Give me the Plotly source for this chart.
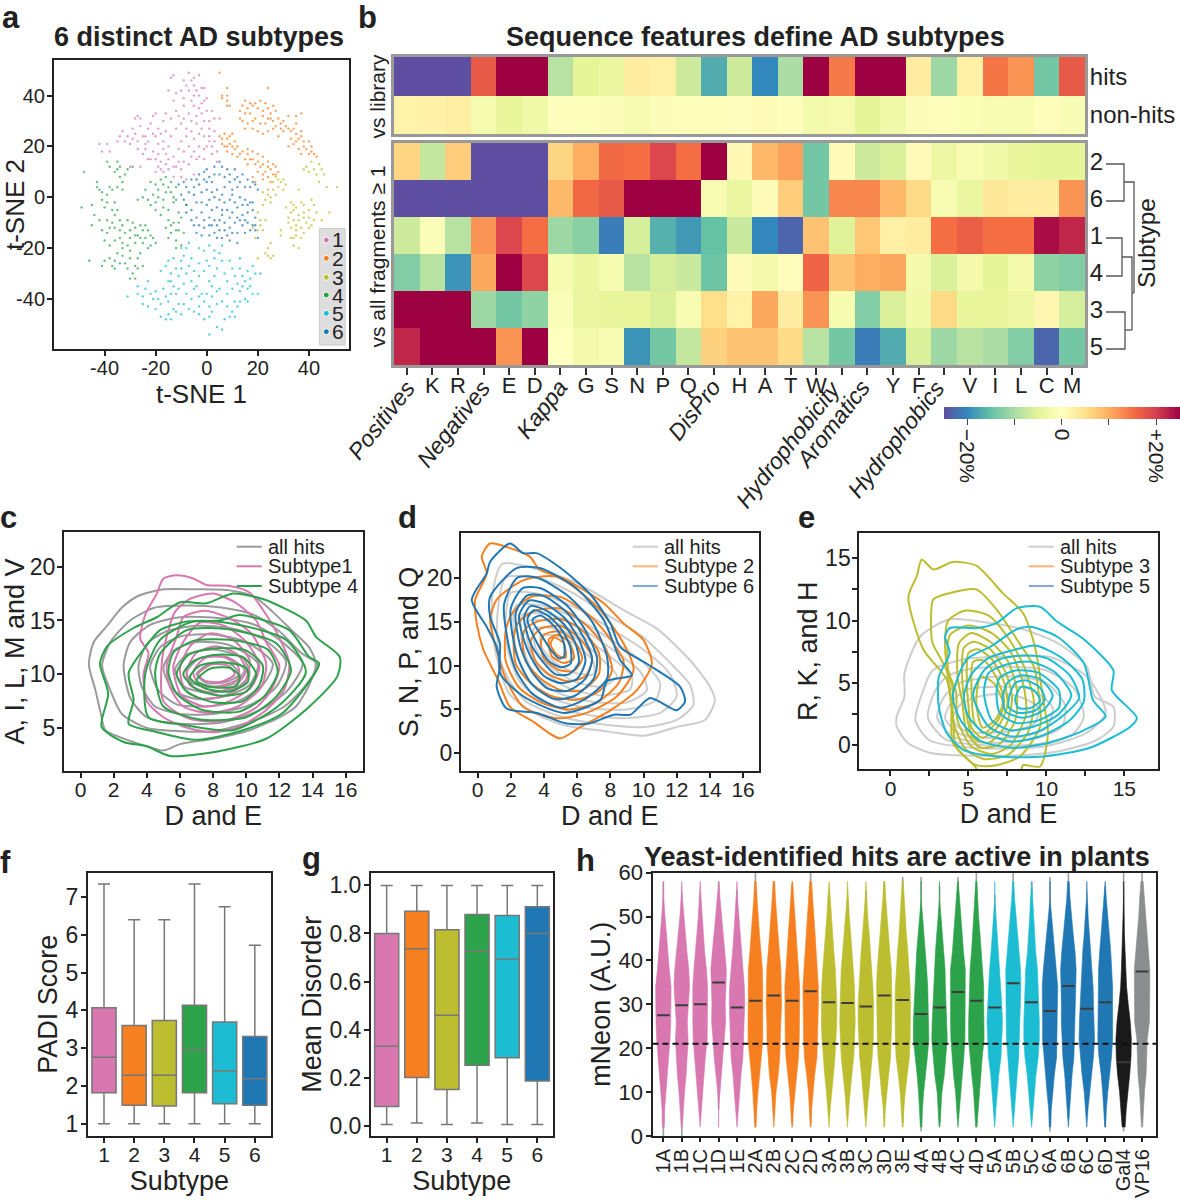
import plotly.graph_objects as go

W, H = 1180, 1200
FONT = "Liberation Sans"
INK = "#222222"
PINK, ORANGE, OLIVE, GREEN, CYAN, BLUE = "#d977b0", "#f6801f", "#bcbd2f", "#2ca24a", "#1cbdd2", "#1f77b4"
SUB_COLORS = [PINK, ORANGE, OLIVE, GREEN, CYAN, BLUE]

# ---------- panel a: t-SNE points ----------
TSNE_1 = [(-42,21),(-41,18),(-39,21),(-38,18),(-33,26),(-31,24),(-32,22),(-30,21),(-29,27),(-28,31),(-27,32),(-26,28),(-28,25),(-25,24),(-27,22),(-24,19),(-25,17),(-23,15),(-30,12),(-26,12),(-21,32),(-20,33),(-22,29),(-19,27),(-18,25),(-20,24),(-16,26),(-14,24),(-17,22),(-15,20),(-21,18),(-19,17),(-22,15),(-20,15),(-18,14),(-16,17),(-13,16),(-11,19),(-10,22),(-12,27),(-10,29),(-14,31),(-12,34),(-9,36),(-15,42),(-14,47),(-13,48),(-10,42),(-9,39),(-7,49),(-6,46),(-5,47),(-3,48),(-8,44),(-7,42),(-6,38),(-4,42),(-3,40),(-2,43),(-1,43),(-1,38),(0,39),(-5,36),(-3,35),(-7,33),(-6,30),(-4,29),(-2,33),(0,34),(2,34),(3,31),(1,27),(-1,24),(-3,25),(-5,23),(-8,24),(-7,20),(-5,18),(-3,20),(0,20),(2,17),(-1,15),(-4,15),(-7,13),(-9,14),(-12,12),(-15,11),(-18,11),(-20,10),(-13,8),(-10,8),(-8,7),(-5,9),(3,22),(3,26),(4,14),(1,22),(5,31),(-17,10),(-24,24),
 (-35,22),(-34,24),(-29,23),(-27,19),(-23,22),(-23,27),(-21,25),(-19,21),(-17,19),(-15,15),(-13,12),(-11,14),(-9,18),(-8,27),(-11,32),(-13,38),(-12,41),(-9,46),(-5,44),(-5,40),(-2,37),(-4,32),(-1,30),(1,30),(-2,27),(1,24),(-1,19),(2,20),(-3,16),(-6,16),(-10,11),(-16,13),(-19,12),(-24,21),(-26,31),(-17,30),(-16,33),(-6,26),(-9,31),(4,18)]
TSNE_2 = [(5,49),(6,40),(8,43),(8,40),(8,38),(8,36),(9,36),(6,39),(24,43),(13,34),(14,36),(15,38),(16,35),(17,33),(18,36),(19,37),(21,38),(23,37),(24,35),(25,33),(26,36),(27,34),(25,31),(23,29),(22,32),(19,31),(16,29),(14,30),(13,31),(18,27),(20,26),(22,25),(24,26),(27,28),(29,29),(31,28),(30,26),(28,24),(26,27),(32,32),(35,32),(37,33),(35,29),(33,26),(35,25),(37,26),(33,23),(34,21),(36,19),(38,22),(40,22),(39,19),(40,17),(37,17),(42,17),(43,16),(41,20),(5,24),(6,23),(8,23),(10,25),(9,21),(11,19),(10,17),(7,20),(8,18),(12,16),(14,18),(16,17),(18,18),(20,17),(22,16),(24,14),(16,13),(17,15),(19,13),(21,12),(23,10),(25,11),(27,12),(26,9),(24,8),(28,10),(18,8),(19,6),(20,10),(22,9),
 (15,33),(17,37),(20,35),(22,34),(24,31),(21,29),(18,30),(15,27),(26,30),(28,31),(30,30),(29,27),(32,27),(34,27),(36,23),(32,20),(35,22),(38,20),(37,24),(41,18),(7,25),(9,24),(11,22),(8,20),(12,20),(13,17),(15,15),(18,15),(20,14),(22,13),(24,12),(26,13),(22,7),(25,6),(10,20),(6,21),(16,19),(27,9)]
TSNE_3 = [(39,12),(41,14),(42,11),(44,13),(45,11),(46,9),(44,6),(47,4),(51,4),(38,11),(27,8),(29,6),(31,5),(28,4),(26,3),(24,1),(23,-1),(25,-2),(22,2),(30,3),(36,3),(48,-6),(33,-2),(35,-4),(37,-2),(41,-1),(42,-3),(38,-6),(36,-7),(33,-6),(31,-4),(40,-5),(43,-6),(42,-9),(39,-10),(36,-9),(34,-9),(32,-8),(33,-12),(35,-13),(37,-12),(40,-12),(35,-15),(33,-16),(37,-16),(34,-19),(36,-20),(29,-15),(20,-6),(21,-9),(20,-13),(22,-13),(19,-16),(25,-18),(24,-20),(23,-22),(26,-23),(25,-24),(20,-24),(18,-12),(22,-3),(29,-13),(45,-9),(34,-3),
 (40,10),(43,9),(28,7),(26,6),(30,7),(24,3),(27,1),(25,0),(34,-5),(38,-3),(40,-8),(38,-8),(35,-11),(41,-11),(38,-14),(34,-16),(32,-10),(21,-11),(23,-9),(24,-23)]
TSNE_4 = [(-48,10),(-39,14),(-35,14),(-34,12),(-36,10),(-34,8),(-33,6),(-31,11),(-29,12),(-43,6),(-43,4),(-42,3),(-41,2),(-39,1),(-37,3),(-35,4),(-33,3),(-41,-1),(-39,-2),(-36,-2),(-49,-4),(-45,-3),(-35,-5),(-36,-7),(-34,-9),(-37,-10),(-44,-7),(-45,-11),(-42,-9),(-39,-9),(-41,-13),(-39,-14),(-40,-17),(-36,-12),(-33,-11),(-32,-14),(-34,-16),(-31,-9),(-29,-10),(-28,-12),(-27,-15),(-25,-13),(-24,-11),(-22,-15),(-21,-16),(-22,-19),(-20,-18),(-25,-18),(-28,-18),(-31,-19),(-33,-20),(-35,-22),(-38,-24),(-40,-25),(-41,-27),(-46,-25),(-37,-27),(-36,-28),(-32,-26),(-30,-24),(-28,-27),(-27,-28),(-25,-27),(-29,-30),(-28,-32),(-30,-32),(-22,6),(-20,5),(-18,7),(-16,8),(-14,6),(-12,4),(-21,1),(-19,0),(-16,2),(-14,2),(-12,-1),(-24,3),(-25,0),(-22,-3),(-20,-5),(-17,-4),(-15,-5),(-13,-2),(-11,-6),(-18,-7),(-15,-9),(-13,-10),(-12,-13),(-14,-14),(-12,-17),(-15,-16),(-11,-10),(-10,-8),(-8,-3),(-27,-1),(-12,-20),(-10,-19),
 (-38,12),(-35,11),(-32,9),(-38,4),(-40,-4),(-37,-5),(-38,-12),(-34,-13),(-30,-13),(-28,-15),(-26,-11),(-23,-13),(-24,-16),(-26,-16),(-30,-16),(-33,-18),(-36,-17),(-38,-19),(-36,-25),(-33,-23),(-30,-21),(-27,-24),(-26,-22),(-23,-20),(-34,-26),(-31,-28),(-19,3),(-17,5),(-15,4),(-13,0),(-20,-2),(-23,-1),(-17,-1),(-14,-11),(-11,-13),(-16,-12),(-9,-14)]
TSNE_5 = [(-31,-39),(-27,-35),(-27,-38),(-25,-39),(-24,-36),(-23,-33),(-22,-38),(-20,-37),(-21,-40),(-23,-43),(-20,-44),(-18,-42),(-16,-39),(-15,-41),(-14,-38),(-13,-44),(-15,-46),(-14,-48),(-16,-48),(-12,-45),(-11,-42),(-18,-47),(-15,-25),(-16,-27),(-14,-30),(-15,-33),(-13,-35),(-12,-28),(-11,-31),(-10,-25),(-9,-34),(-8,-30),(-7,-27),(-6,-33),(-5,-36),(-8,-38),(-10,-20),(-8,-20),(-7,-18),(-3,-20),(-1,-21),(1,-19),(-3,-26),(-1,-29),(1,-27),(3,-24),(5,-22),(6,-19),(9,-25),(10,-28),(13,-24),(14,-31),(12,-34),(15,-33),(17,-32),(19,-30),(21,-30),(16,-36),(18,-38),(20,-38),(13,-37),(11,-41),(8,-38),(6,-41),(5,-36),(2,-35),(1,-33),(3,-31),(4,-37),(-3,-39),(-1,-41),(1,-43),(-3,-43),(-2,-38),(1,-47),(2,-45),(-1,-48),(4,-51),(6,-52),(1,-54),(7,-48),(9,-47),(11,-47),(12,-43),(10,-45),(15,-40),(16,-29),(-5,-45),
 (-25,-42),(-19,-40),(-17,-36),(-12,-38),(-14,-33),(-11,-36),(-10,-28),(-13,-24),(-9,-23),(-6,-24),(-5,-29),(-3,-31),(-4,-35),(-6,-40),(-9,-42),(-7,-44),(-3,-46),(0,-38),(2,-39),(4,-42),(0,-25),(4,-28),(7,-30),(8,-33),(10,-36),(14,-35),(17,-35),(13,-28),(11,-31),(18,-27),(8,-43),(13,-41),(16,-41),(-18,-29),(-10,-46),(6,-25),(3,-21)]
TSNE_6 = [(-11,5),(-9,6),(-8,4),(-7,2),(-10,1),(-9,-1),(-8,-3),(-5,4),(-4,7),(-3,9),(-1,10),(0,11),(1,8),(2,6),(3,12),(5,14),(6,12),(8,11),(9,9),(11,11),(12,8),(13,6),(12,4),(10,3),(7,4),(4,3),(2,2),(0,3),(-1,7),(16,7),(18,6),(19,5),(20,3),(17,4),(5,-1),(7,-2),(9,-1),(6,-5),(4,-4),(2,-5),(0,-3),(-2,-6),(-4,-8),(-6,-9),(-3,-11),(-1,-9),(1,-8),(3,-9),(5,-9),(8,-5),(10,-6),(12,-4),(14,-3),(16,-6),(18,-5),(19,-8),(15,-9),(13,-9),(11,-10),(9,-12),(7,-10),(5,-13),(3,-14),(1,-15),(-2,-15),(-4,-14),(6,-16),(9,-17),(12,-18),(15,-14),(17,-13),(19,-13),(20,-16),(18,-11),(14,-7),(-6,-5),(2,-11),(8,-15),(12,-14),(16,-3),(10,1),
 (-6,7),(-5,1),(-3,5),(-2,2),(0,6),(3,9),(5,9),(7,8),(9,6),(11,7),(14,9),(15,4),(-4,-2),(-2,-2),(1,-1),(3,0),(6,1),(11,-2),(13,0),(15,-1),(17,-2),(-1,-12),(1,-11),(4,-11),(6,-7),(9,-8),(12,-8),(14,-11),(10,-14),(7,-13),(4,-16),(-5,-11),(16,-10),(18,-2),(-8,-6),(19,-11)]
TSNE_TICKS = [-40, -20, 0, 20, 40]
TSNE_TICK_TEXT = ["-40", "-20", "0", "20", "40"]

# ---------- panel b: heatmaps ----------
FEATURES = ["Positives","K","R","Negatives","E","D","Kappa","G","S","N","P","Q","DisPro","H","A","T","W","Hydrophobicity","Aromatics","Y","F","Hydrophobics","V","I","L","C","M"]
HITS_ROW = [-25,-25,-25,17,25,25,-9,-5,-4,3,2.5,-7,-17,-7,-20,-10,25,14,25,25,3,-11,2.5,14.5,12,-14,17]
NONHITS_ROW = [2,2.3,2.7,-2,-4.5,-3,-.5,-.5,-.8,-1.8,-.8,-.6,.4,.1,.7,-.3,-2.5,-2.2,-5,-3,-.8,-.4,-1.2,-1.5,-1.5,.3,-1.4]
ROW_S2 = [6,-8,7,-25,-25,-25,6,10,15.5,15,19,15,25,1,9,11,-14,.8,-7,-6,.8,-3.5,-1.5,-3,-4.5,-5,-5]
ROW_S6 = [-25,-25,-25,-25,-25,-25,9,15.5,17,25,25,25,-1.5,-4,.5,7,-14,13,13,9,5.5,-1.5,-4,3.5,3,3,12]
ROW_S1 = [-7,-1,-9,12,19,15,-11,-12.5,-21,-6.5,-16.5,-18.5,-15,-7.5,-20,-23,8,-5.5,7.5,2.5,3,15,16.5,15,15,24,22]
ROW_S4 = [-13,-9,-19,10.5,25,19,-2,-4,-2,-9,-6.5,-7.5,-14.5,.5,-2.5,.3,16,8,10,10.5,-2.5,-6,-2.5,-5,-2.5,-12,-13]
ROW_S3 = [25,25,25,-11,-14,-12,-1,-4,-4.5,-4.5,-6,-1.5,5,2,10.5,3,12,-2,-13,-6,-3,5.5,-4.5,-4.5,-3.5,1.5,-6.5]
ROW_S5 = [22,25,25,25,12,25,0,-2.5,-1.5,-19,-14,-8,6.5,8,8,5.5,-9,-14,-21,-17,-6,-11,-9,-10,-13,-23,-14]
SPECTRAL = ["#5e4fa2","#3288bd","#66c2a5","#abdda4","#e6f598","#ffffbf","#fee08b","#fdae61","#f46d43","#d53e4f","#9e0142"]
CB_TICKS = [-20, -10, 0, 10, 20]
CB_TEXT = ["\u221220%", "", "0", "", "+20%"]

# ---------- panels c, d, e: density contour lines (data units) ----------
C_ALL = [
 [(.5,10.9),(.8,13),(1.6,14.5),(2.5,16.2),(3.5,17.3),(5,17.9),(7,17.9),(9,17.8),(10.5,17.2),(11.6,15.8),(12.8,14),(13.8,12.5),(14.2,11),(13.8,9),(13,7),(12,6),(10,4.7),(8,4),(6,3.5),(5,2.9),(4,3.3),(3,3.8),(1.5,4.8),(1.2,6.5),(.9,8.5)],
 [(1.3,10.8),(1.8,13),(3,15),(4.5,16.2),(6.5,16.4),(8.5,16.2),(10.5,15.5),(12,14),(13.3,12),(14.3,10.9),(13.5,8.8),(12.3,7),(10.5,5.7),(8,4.7),(6,4.7),(4,5),(2.5,6.3),(1.8,8.5)],
 [(2.6,10.8),(3,13),(4.2,14.6),(6,15.3),(8.5,15.2),(10.5,14.6),(12,13.2),(13.4,11),(12.5,8.5),(11,6.8),(8.5,5.5),(6,5.4),(4,6),(3,7.8)],
 [(3.5,10.8),(4,12.8),(5.2,14),(7,14.5),(9,14.3),(11,13.3),(12.4,11.2),(11.8,8.8),(10.3,7.2),(8,6.3),(6,6.3),(4.5,7),(3.7,8.8)],
 [(4.2,10.7),(4.8,12.5),(6,13.5),(8,13.7),(10,13),(11.6,11),(11,9),(9.5,7.5),(7.5,7),(5.8,7.2),(4.7,8.5)],
 [(5,10.6),(5.6,12.2),(7,13),(9,12.7),(10.7,11),(10.2,9),(8.8,8),(7,7.7),(5.6,8.5)],
 [(5.7,10.4),(6.4,11.8),(8,12.3),(9.8,11.5),(10.2,10),(9.4,8.7),(7.8,8.3),(6.3,8.8)],
 [(6.4,10.2),(7.2,11.5),(8.8,11.6),(9.9,10.4),(9.2,9.1),(7.7,8.8),(6.7,9.2)],
 [(7,10),(7.8,11),(9,11),(9.6,10),(8.8,9.3),(7.6,9.2)],
]
C_S1 = [
 [(4.1,12),(3.6,13.3),(3.9,15.5),(4.6,17.5),(5,18.9),(5.8,19.2),(6.8,18.9),(7.6,18.3),(9,18.2),(10.2,17.6),(11,16),(11.8,14),(12.6,11),(12.3,8.6),(11.3,6.8),(9.7,5.2),(8,4.6),(6.5,5),(5,6),(4,7.5),(3.8,10)],
 [(4.9,11),(5.2,13.5),(5.7,15.8),(6.6,17),(8,17.5),(9.3,16.7),(10.6,15),(11.2,13),(12,10.8),(11.5,8.5),(10.5,6.8),(8.5,5.6),(6.5,5.9),(5,7.5)],
 [(5.2,10.8),(5.8,13.5),(6.2,15.3),(7.5,15.9),(9,15.2),(10.3,13.8),(11.2,11),(10.9,8.8),(9.5,7),(7.8,6.4),(6.2,7),(5.4,8.8)],
 [(5.6,10.7),(6.2,13),(7.2,14.8),(8.7,14.5),(10,13),(10.8,10.8),(10.3,8.8),(9,7.5),(7.5,7),(6.1,8)],
 [(6,10.5),(6.6,12.6),(7.8,13.8),(9.2,13.2),(10.2,11.3),(9.9,9.2),(8.7,8),(7.3,7.7),(6.3,8.6)],
 [(6.4,10.3),(7,12),(8.2,12.6),(9.5,11.8),(10,10.3),(9.3,8.9),(7.9,8.3),(6.6,9)],
 [(6.8,10.2),(7.5,11.5),(8.6,11.6),(9.5,10.8),(9.5,9.6),(8.4,8.9),(7.2,9)],
 [(7.1,10),(7.9,10.9),(8.9,10.8),(9.3,10),(8.5,9.3),(7.5,9.4)],
]
C_S4 = [
 [(1.17,11),(1.67,8.2),(1.27,5.1),(2.6,3.7),(4,3.3),(5.4,2.4),(8.2,2.8),(11.2,4),(13.6,6.7),(15.5,9.8),(15.65,11.6),(14.2,13.5),(13.6,15),(11,17),(9.2,17.5),(7.6,16.6),(6,16.7),(4.6,15.3),(3.2,14.3),(1.6,12.6)],
 [(2.9,10.1),(3.2,7.6),(2.9,5.4),(4.4,4.7),(7,3.9),(9.6,4.7),(12.2,6.4),(14.4,11),(13.8,11.6),(12.6,14.1),(9.6,15.5),(8.4,15),(6.4,14.9),(4.8,14.1),(3.8,12.3)],
 [(3.9,10),(4.1,6),(6.2,5.3),(9.2,4.8),(11.9,7),(13.6,10.2),(12.4,13.2),(9.2,14.7),(6.8,14.9),(4.8,13.2)],
 [(4.5,10.1),(5,7),(7.2,5.8),(10,6),(11.8,7.9),(12.7,10.4),(11.8,12.9),(8.8,14.2),(6.4,14.1),(4.8,11.9)],
 [(5.3,10.2),(5.8,8.2),(7.3,6.7),(9.5,6.5),(11,7.8),(11.9,10.2),(11.3,12.3),(9,13.2),(6.8,13.1),(5.6,12)],
 [(5.8,10),(6.4,8.4),(8,7.4),(9.8,7.5),(10.8,9),(11,10.8),(10,12.2),(8,12.4),(6.5,11.8)],
 [(6.2,10),(7,8.6),(8.5,8),(10,8.4),(10.6,10),(9.8,11.6),(8,11.8),(6.8,11.2)],
 [(6.6,9.7),(7.5,8.7),(9,8.4),(10.1,9.3),(10,10.6),(8.7,11.1),(7.2,10.8)],
 [(7,9.4),(8,8.8),(9.4,8.9),(9.6,9.8),(9,10.6),(7.8,10.5)],
]
D_ALL = [
 [(1.5,21.6),(3.55,21),(6,19.4),(8.8,16.3),(10.8,14.2),(12.8,10.6),(14,7.6),(14.3,6),(13.7,3.8),(12,3),(10,2),(7.8,2.5),(5.2,3.2),(3.4,4.6),(1.9,6.8),(1.3,9.9),(.9,13.7),(.9,18.2)],
 [(1.7,20),(3.6,20),(5.7,18.3),(7.6,16),(9.8,13.5),(11.5,10.5),(12.8,7.8),(13,5.5),(12,3.8),(10,3),(7.5,3.3),(5,4.2),(3,5.8),(2,8),(1.3,11),(1.2,16)],
 [(2,18.3),(4,18),(6,16.5),(8,14.2),(10,11.8),(11.6,9),(12,6.5),(11,4.6),(8.8,4),(6,4.6),(3.8,6),(2.5,8.3),(1.8,12),(1.7,15.5)],
 [(2.3,16.8),(4,16.8),(6,15.3),(8,13),(10,10.3),(11,8),(10.7,6),(9,5),(6.5,5.2),(4.3,6.4),(3,8.5),(2.3,12)],
 [(2.7,15.8),(4.3,15.8),(6,14.5),(8,12),(9.8,9.3),(10.2,7.2),(9,5.8),(6.8,5.9),(4.7,7),(3.4,9),(2.7,12.5)],
 [(3,15),(4.5,15),(6.2,13.5),(8,11),(9.3,8.8),(9.2,7.3),(7.5,6.6),(5.4,7.5),(3.9,9.5),(3.1,12)],
 [(3.4,14.2),(4.8,14.2),(6.2,12.8),(7.6,10.5),(8.4,8.8),(7.5,7.6),(5.8,8.2),(4.3,10),(3.5,12)],
 [(3.8,13.4),(5,13.3),(6.2,12),(7,10.3),(7,9),(5.8,9.2),(4.6,10.4),(3.9,12)],
]
D_S2 = [
 [(.75,23.9),(.25,22.4),(.55,20.5),(-.15,17.5),(-.05,14.8),(.35,11.8),(1.25,8.3),(1.95,5.3),(3.35,3.6),(4.95,1.7),(6.2,3),(8,4.9),(9.6,7.2),(10.5,10.2),(10,12.9),(8.8,14.8),(7.6,17.1),(5.2,19.9),(3.75,20.9),(3.15,22.4),(1.75,23.5)],
 [(.75,15.2),(1.15,11.8),(1.65,8.7),(2.75,5.3),(4.75,4),(6.55,4.6),(8.4,6.5),(9.4,9.5),(8.8,12.5),(7.2,16.7),(4.75,20.1),(2.75,19.7),(1.15,17.5)],
 [(1.7,14),(1.7,10.5),(2.5,7.5),(3.8,5.8),(5.5,5),(7.2,5.8),(8.5,8),(8.8,10.5),(8,13),(6.8,15.6),(5,17.8),(3.2,17.8),(2.1,16)],
 [(2.2,13.5),(2.3,10.2),(3.2,8),(4.5,6.5),(6,6.1),(7.4,7.2),(8.1,9.5),(7.7,12),(6.6,14.5),(5,16.5),(3.4,16.2),(2.5,15)],
 [(2.7,13),(2.9,10.5),(3.8,8.5),(5,7.2),(6.3,7.2),(7.3,9),(7.3,11.5),(6.3,14),(5,15.3),(3.6,15),(2.9,14.2)],
 [(3.2,12.8),(3.5,10.5),(4.3,9),(5.5,8.2),(6.5,8.8),(6.9,10.8),(6.2,13),(5,14.5),(3.8,14.2)],
 [(3.8,12.5),(4,10.8),(4.9,9.5),(5.8,9.4),(6.3,10.8),(5.8,12.8),(4.9,13.9),(4,13.5)],
 [(4.3,12.2),(4.5,11),(5.2,10.3),(5.8,10.8),(5.5,12.7),(4.8,13.5),(4.3,13)],
 [(4.4,12.4),(4.8,11.2),(5.3,10.9),(5.2,12.5),(4.6,13.2)],
]
D_S6 = [
 [(1.95,23.9),(.75,21.8),(.55,20.5),(-.35,17.5),(.55,14.4),(1.15,12.1),(1.35,9.9),(1.15,7.6),(1.75,5.1),(3.55,4.6),(5.35,3.4),(6.75,3.4),(8.2,4.4),(9.2,4.4),(10.4,6.3),(12,4.9),(12.5,5.9),(12.2,7.6),(10.2,10.2),(8.6,12.1),(8,14.8),(6.75,18.2),(5,21.1),(3.55,22.8),(2.75,22.8)],
 [(.75,17.8),(2.35,21.1),(3.75,21.1),(5.95,18.8),(7.6,15.2),(8.6,10.6),(9.3,8.9),(7.8,8.2),(7.4,6.1),(5.2,4.6),(2.75,6.5),(1.35,9.1),(1.35,12.5),(.75,15.6)],
 [(1.6,17),(2.4,20),(3.6,20),(5.4,18),(6.9,15),(7.8,11),(7.8,8.5),(6.5,6.2),(5,5.2),(3.3,6.8),(2.3,9.5),(1.8,13)],
 [(2,16.5),(2.7,18.8),(3.8,18.8),(5.4,16.8),(6.5,14),(7.2,10.8),(7,8.5),(5.8,6.5),(4.6,6.2),(3.3,7.8),(2.5,10.5),(2.1,13.5)],
 [(2.3,16),(3,18),(4,17.9),(5.4,16),(6.3,13.5),(6.9,10.8),(6.5,8.5),(5.4,7.1),(4.2,7.4),(3.3,9.2),(2.6,12)],
 [(2.5,15.7),(3.1,17.4),(4.1,17),(5.3,15.3),(6.1,13),(6.5,10.5),(6,8.5),(5,8),(4,8.8),(3.2,11),(2.7,13.5)],
 [(2.8,15.5),(3.2,16.8),(4.2,16.2),(5.2,14.7),(5.9,12.5),(6.1,10.3),(5.5,9),(4.7,9),(3.9,10.5),(3.2,12.5)],
 [(3,15.3),(3.4,16.3),(4.3,15.6),(5.1,14),(5.6,12),(5.6,10.2),(5,9.8),(4.3,10.5),(3.6,12.5)],
 [(3.3,15.2),(3.8,15.7),(4.7,14.3),(5.2,12.6),(5.2,11),(4.9,10.8),(4.4,11.8),(3.9,13.3)],
]
E_ALL = [
 [(.4,2.3),(.9,3.9),(.9,5.8),(1.9,8.7),(3.8,10.1),(6.4,9.8),(8.5,9.3),(10.7,8.2),(12.6,6.3),(13.1,3.9),(14.3,3.1),(14.3,1.5),(13.2,.4),(11.1,-.4),(8.5,-.8),(4.2,-.8),(2.5,-.6),(1.1,.2),(.4,1.5)],
 [(1.6,2),(2.1,4.4),(2.7,6),(4.7,6.9),(7.2,7.1),(10.2,7.1),(12.6,5.5),(13.8,2.6),(12.6,1),(9.8,-.1),(5.3,-.2),(2.5,.4)],
 [(2.4,2.2),(2.8,4.2),(3.6,5.5),(5,6.1),(7.5,6.3),(10,6),(11.8,4.5),(12.4,2.3),(11.7,.9),(9.5,.1),(6,0),(3.5,.5)],
 [(3,2.2),(3.4,3.8),(4.4,5),(6,5.4),(8,5.5),(10,5),(11.2,3.2),(11,1.5),(9.2,.5),(6,.2),(4,.7)],
 [(3.5,2.2),(4,3.6),(5,4.5),(7,4.7),(9,4.5),(10.4,3),(10,1.4),(8.5,.7),(6,.6),(4.3,1)],
 [(4,2.2),(4.6,3.4),(6,4),(8,4),(9.5,3),(9.2,1.7),(7.5,1.1),(5.5,1),(4.4,1.4)],
]
E_S3 = [
 [(2,14.9),(2.75,14.1),(4,14.7),(5.5,14.4),(7.2,12.2),(8.5,10.6),(9.3,7.7),(9.8,3.6),(10.1,1),(9.6,-1.7),(8.5,-1.6),(8.3,-2.3),(5.5,-2.3),(5.5,-1.85),(4,.2),(3.9,3.1),(3.6,5.3),(2.1,7.7),(1.15,11.9),(1.7,13.6)],
 [(2.6,9.8),(2.75,11.7),(3.8,12.2),(5.5,12.5),(6.8,10.9),(8.1,8.5),(9.2,6.3),(9.5,4.2),(9.6,1.5),(8.3,-.9),(6.8,-1.6),(5.5,-1.6),(4.2,-.1),(4,2.6),(3.6,6),(2.7,8.2)],
 [(3.6,6.5),(3.5,8.5),(3.7,10),(4.8,10.8),(6.3,10.4),(7.5,8.7),(8.5,6.5),(9.2,3.5),(8.8,1),(7.5,-.8),(6,-1.1),(4.8,-.3),(4,2),(4,4.5)],
 [(3.7,6),(3.8,8.8),(5,9.6),(6.5,9),(7.7,7.5),(8.5,5),(8.7,2.5),(7.7,0),(6.5,-.7),(5.2,-.1),(4.3,2),(4.2,4.3)],
 [(4.3,5.5),(4.4,8.2),(5.2,9),(6.5,8.2),(7.5,6.8),(8.1,4.5),(8,2),(7,.1),(5.8,-.2),(4.9,1),(4.6,3.5)],
 [(4.6,5.3),(4.7,7.8),(5.3,8.3),(6.4,7.7),(7.4,5.8),(7.8,3.8),(7.4,1.6),(6.3,.2),(5.3,.6),(4.8,3)],
 [(4.9,5),(5,7.4),(5.6,7.7),(6.5,6.9),(7.3,5),(7.5,3.2),(6.9,1.5),(5.9,.6),(5.2,1.4),(5,3.2)],
 [(5.2,4.5),(5.3,6.7),(6,6.8),(6.8,5.4),(7.3,3.5),(6.9,2),(6,1),(5.4,1.8)],
 [(5.5,3.5),(5.8,5.5),(6.6,5),(7.2,3.4),(6.7,2),(5.9,1.4)],
]
E_S5 = [
 [(3.8,9.4),(5.5,9.4),(6.8,9.8),(8.1,11),(9.6,11.1),(10.7,9.9),(12.4,8.5),(14.3,6),(14.2,4.4),(15.8,2.2),(15.4,1.5),(12.8,-.2),(9.8,-.9),(6.8,-.9),(4.7,-.4),(3.6,1),(3.1,3.1),(3.1,5.5),(3.8,7.4),(3.5,8.7)],
 [(4,3.9),(4.9,6.9),(6.4,7.9),(8.1,9.3),(8.95,9.5),(10.7,8.7),(12.4,6.6),(13,3.6),(13.8,2.3),(12.4,1.2),(10.2,.2),(7.7,-.2),(5.7,.4),(4.5,2)],
 [(4.7,3.9),(5.2,5.7),(6.3,7),(7.8,7.6),(9.3,8),(11,7),(12.3,5.3),(12.4,3.5),(11.5,2),(9.8,.8),(7.8,.3),(6,1),(5,2.3)],
 [(5.3,4),(6,6),(7,6.9),(8.5,7.2),(10,7),(11.5,5.6),(12.1,3.8),(11,2.3),(9.5,1.1),(7.8,.7),(6.3,1.5)],
 [(6,4.2),(6.3,5.8),(7.5,6.5),(9,6.7),(10.6,5.8),(11.6,4),(10.7,2.4),(9.2,1.5),(7.7,1.2),(6.5,2)],
 [(6.8,4.2),(7,5.4),(8,6),(9.5,5.8),(10.8,4.4),(10.8,3),(9.5,2),(8,1.8),(7,2.6)],
 [(7.2,3.8),(7.5,5),(8.3,5.6),(9.6,5.3),(10.4,4),(9.8,2.8),(8.5,2.2),(7.4,2.7)],
 [(7.6,3.8),(8,5),(8.7,5.2),(9.6,4.6),(9.9,3.7),(9.3,2.8),(8.2,2.6),(7.6,3)],
 [(8,3.7),(8.4,4.7),(9.2,4.4),(9.6,3.6),(9,3),(8.2,3)],
]

# ---------- panels f, g: box statistics ----------
SUBTYPES = [1, 2, 3, 4, 5, 6]
PADI_LOW = [1, 1, 1, 1, 1, 1]
PADI_Q1 = [1.82, 1.49, 1.47, 1.82, 1.53, 1.49]
PADI_MED = [2.76, 2.28, 2.28, 2.96, 2.40, 2.19]
PADI_Q3 = [4.07, 3.60, 3.73, 4.14, 3.69, 3.31]
PADI_HIGH = [7.35, 6.40, 6.40, 7.35, 6.75, 5.73]
DIS_LOW = [.005, .011, .005, .011, .005, .005]
DIS_Q1 = [.08, .20, .15, .251, .283, .186]
DIS_MED = [.33, .736, .46, .728, .694, .80]
DIS_Q3 = [.80, .893, .815, .879, .875, .911]
DIS_HIGH = [1, 1, 1, 1, 1, 1]

# ---------- panel h: violins ----------
CONSTRUCTS = ["1A","1B","1C","1D","1E","2A","2B","2C","2D","3A","3B","3C","3D","3E","4A","4B","4C","4D","5A","5B","5C","6A","6B","6C","6D","Gal4","VP16"]
CONSTRUCT_COLORS = [PINK]*5 + [ORANGE]*4 + [OLIVE]*5 + [GREEN]*4 + [CYAN]*3 + [BLUE]*4 + ["#1a1a1a", "#8c8d8f"]
PROFILE_Y = [2,6,10,14,18,22,26,30,34,38,42,46,50,54,58]
HALF_WIDTHS = [
 [.05,.07,.14,.22,.30,.36,.40,.42,.42,.32,.23,.16,.09,.02,0],
 [.03,.07,.15,.24,.30,.34,.30,.38,.42,.38,.28,.20,.10,.04,0],
 [0,.07,.14,.22,.28,.38,.40,.40,.40,.34,.24,.18,.10,.05,0],
 [0,0,.05,.15,.24,.30,.38,.36,.40,.42,.34,.24,.16,.08,.02],
 [0,.06,.14,.22,.32,.36,.40,.42,.40,.30,.24,.17,.10,.03,0],
 [.03,.07,.14,.22,.32,.40,.40,.40,.40,.38,.30,.22,.14,.09,.04],
 [0,.06,.12,.24,.32,.37,.38,.42,.40,.38,.30,.22,.15,.09,.04],
 [.02,.06,.14,.24,.34,.38,.40,.40,.40,.34,.28,.22,.14,.09,.02],
 [.02,.05,.12,.22,.34,.38,.40,.42,.42,.36,.30,.24,.16,.10,.05],
 [0,.06,.14,.24,.32,.38,.42,.42,.40,.34,.26,.18,.12,.07,0],
 [0,.06,.14,.24,.34,.38,.42,.40,.38,.34,.26,.18,.10,.03,0],
 [0,.07,.15,.24,.34,.40,.42,.42,.38,.34,.26,.18,.10,.04,0],
 [.02,.05,.15,.24,.34,.38,.40,.42,.42,.38,.30,.20,.14,.08,.03],
 [.02,.06,.14,.24,.36,.40,.42,.42,.40,.36,.28,.20,.14,.08,.03],
 [.04,.07,.14,.22,.34,.42,.42,.38,.36,.30,.24,.16,.08,0,0],
 [.02,.06,.13,.26,.34,.42,.40,.36,.32,.30,.22,.15,.08,0,0],
 [0,.05,.13,.24,.32,.38,.40,.40,.40,.40,.30,.24,.14,.08,.02],
 [.03,.07,.15,.25,.32,.42,.42,.40,.40,.34,.26,.20,.12,.07,.03],
 [0,.06,.12,.22,.34,.40,.42,.38,.34,.28,.20,.14,.07,0,0],
 [0,.05,.14,.22,.30,.36,.38,.40,.42,.40,.32,.24,.14,.08,.03],
 [0,.07,.15,.24,.36,.42,.42,.38,.36,.32,.22,.15,.10,.06,.02],
 [.04,.07,.16,.24,.36,.40,.40,.40,.42,.36,.28,.18,.09,0,0],
 [0,.06,.12,.20,.30,.36,.38,.38,.40,.42,.36,.26,.16,.09,.04],
 [0,.06,.14,.26,.36,.42,.40,.36,.34,.30,.22,.14,.07,.02,0],
 [.02,.06,.14,.22,.34,.40,.40,.40,.40,.36,.30,.22,.12,.06,0],
 [.08,.14,.22,.33,.40,.42,.36,.25,.16,.12,.08,.04,0,0,0],
 [.03,.06,.13,.22,.26,.28,.40,.42,.42,.42,.34,.24,.18,.13,.06],
]
STEM_LOW = [0,0,5,6,5,2,5,3,3,5,5,5,4,3,1,3,4,2,5,7,4,1,4,5,2,1,4]
STEM_HIGH = [58,55,55,58,56,60,58,57,60,54,54,56,58,59,59,57,59,60,55,60,58,59,60,53,57,60,60]
MEDIANS = [27.5,29.8,30,35,29.3,30.8,32,30.8,33,30.5,30.3,29.5,32,31,27.8,29.3,32.8,30.8,29.3,34.8,30.5,28.5,34.2,29,30.5,16.8,37.5]
THRESHOLD = 21


def px(x):
    return x / W


def py(y):
    return 1 - y / H


def dom(x0, x1, y0, y1):
    return dict(x=[px(x0), px(x1)], y=[py(y1), py(y0)])


def closed(contours):
    xs, ys = [], []
    for c in contours:
        pts = c + [c[0]]
        xs += [p[0] for p in pts] + [None]
        ys += [p[1] for p in pts] + [None]
    return xs, ys


def axis(domain, anchor, rng, title=None, tickvals=None, ticktext=None, tfs=19, size=19, standoff=2, lso=0, **kw):
    d = dict(domain=domain, anchor=anchor, range=rng, showgrid=False, zeroline=False,
             showline=True, mirror=True, linecolor=INK, linewidth=2, ticks="outside", ticklen=5,
             tickwidth=1.5, tickcolor=INK, tickfont=dict(size=size, family=FONT, color=INK), automargin=False,
             ticklabelstandoff=lso)
    if tickvals is not None:
        d["tickmode"] = "array"
        d["tickvals"] = tickvals
        d["ticktext"] = ticktext if ticktext is not None else [str(v) for v in tickvals]
    if title:
        d["title"] = dict(text=title, font=dict(size=tfs, family=FONT, color=INK), standoff=standoff)
    d.update(kw)
    return d


fig = go.Figure()
annotations, shapes = [], []


def note(text, x, y, size=20, bold=False, angle=0, xa="center", ya="middle", color=INK, italic=False):
    t = text
    if italic:
        t = f"<i>{t}</i>"
    if bold:
        t = f"<b>{t}</b>"
    annotations.append(dict(text=t, x=px(x), y=py(y), xref="paper", yref="paper", showarrow=False,
                            xanchor=xa, yanchor=ya, textangle=angle, borderpad=0, borderwidth=0,
                            font=dict(size=size, family=FONT, color=color)))


# --- a ---
for i, pts in enumerate([TSNE_1, TSNE_2, TSNE_3, TSNE_4, TSNE_5, TSNE_6]):
    fig.add_trace(go.Scatter(x=[p[0] for p in pts], y=[p[1] for p in pts], mode="markers", name=str(i + 1),
                             marker=dict(size=2.4, color=SUB_COLORS[i], opacity=0.7, line=dict(width=0)),
                             xaxis="x", yaxis="y", showlegend=False))

# --- b ---
fig.add_trace(go.Heatmap(z=[HITS_ROW, NONHITS_ROW], x=list(range(27)), y=[0, 1], zmin=-25, zmax=25,
                         colorscale=[[i / 10, c] for i, c in enumerate(SPECTRAL)], xaxis="x2", yaxis="y2",
                         colorbar=dict(orientation="h", x=px(943.6), xanchor="left", y=py(407), yanchor="top",
                                       thickness=12, thicknessmode="pixels", len=236, lenmode="pixels",
                                       xpad=0, ypad=0, tickmode="array", tickvals=CB_TICKS, ticktext=CB_TEXT,
                                       tickangle=90, ticks="outside", ticklen=6, tickcolor="#444", outlinewidth=0,
                                       tickfont=dict(size=21, family=FONT, color=INK))))
fig.add_trace(go.Heatmap(z=[ROW_S2, ROW_S6, ROW_S1, ROW_S4, ROW_S3, ROW_S5], x=list(range(27)), y=list(range(6)),
                         zmin=-25, zmax=25, colorscale=[[i / 10, c] for i, c in enumerate(SPECTRAL)],
                         showscale=False, xaxis="x3", yaxis="y3"))

# --- c, d, e ---
for series, color, name, ax in [
    (C_ALL, "#9a9a9c", "all hits", "4"), (C_S1, PINK, "Subtype1", "4"), (C_S4, GREEN, "Subtype 4", "4"),
    (D_ALL, "#cdcdcd", "all hits", "5"), (D_S2, ORANGE, "Subtype 2", "5"), (D_S6, BLUE, "Subtype 6", "5"),
    (E_ALL, "#cdcdcd", "all hits", "6"), (E_S3, OLIVE, "Subtype 3", "6"), (E_S5, CYAN, "Subtype 5", "6"),
]:
    xs, ys = closed(series)
    fig.add_trace(go.Scatter(x=xs, y=ys, mode="lines", name=name, line=dict(color=color, width=2, shape="spline", smoothing=0.7),
                             xaxis="x" + ax, yaxis="y" + ax, showlegend=False, connectgaps=False))

# --- f, g ---
for i, s in enumerate(SUBTYPES):
    fig.add_trace(go.Box(x=[s], q1=[PADI_Q1[i]], median=[PADI_MED[i]], q3=[PADI_Q3[i]], lowerfence=[PADI_LOW[i]],
                         upperfence=[PADI_HIGH[i]], fillcolor=SUB_COLORS[i], line=dict(color="#777", width=1.5),
                         width=0.8, whiskerwidth=0.5, boxpoints=False, xaxis="x7", yaxis="y7", showlegend=False, name=str(s)))
    fig.add_trace(go.Box(x=[s], q1=[DIS_Q1[i]], median=[DIS_MED[i]], q3=[DIS_Q3[i]], lowerfence=[DIS_LOW[i]],
                         upperfence=[DIS_HIGH[i]], fillcolor=SUB_COLORS[i], line=dict(color="#777", width=1.5),
                         width=0.8, whiskerwidth=0.5, boxpoints=False, xaxis="x8", yaxis="y8", showlegend=False, name=str(s)))

# --- h ---
for i, name in enumerate(CONSTRUCTS):
    fig.add_trace(go.Scatter(x=[i, i], y=[STEM_LOW[i], STEM_HIGH[i]], mode="lines", line=dict(color="#a0a0a4", width=1.6),
                             xaxis="x9", yaxis="y9", showlegend=False, hoverinfo="skip"))
    widths = HALF_WIDTHS[i]
    ol_x = [i - w for w in widths] + [i + w for w in widths[::-1]]
    ol_y = PROFILE_Y + PROFILE_Y[::-1]
    fig.add_trace(go.Scatter(x=ol_x, y=ol_y, mode="lines", fill="toself",
                             fillcolor=CONSTRUCT_COLORS[i], line=dict(color=CONSTRUCT_COLORS[i], width=0.6),
                             name=name, xaxis="x9", yaxis="y9", showlegend=False))
fig.add_trace(go.Scatter(x=list(range(27)), y=MEDIANS, mode="markers", name="median",
                         marker=dict(symbol="line-ew", size=9, line=dict(color="#3c3c3c", width=2)),
                         xaxis="x9", yaxis="y9", showlegend=False))
fig.add_trace(go.Scatter(x=[-0.59, 26.78], y=[THRESHOLD, THRESHOLD], mode="lines", name="threshold",
                         line=dict(color="#111", width=2, dash="6px,4px"), xaxis="x9", yaxis="y9", showlegend=False))

# --- layout ---
d_a = dom(54, 349, 60, 349)
d_bt = dom(394, 1085, 57, 134)
d_bb = dom(394, 1085, 143, 365)
d_c = dom(64, 362.7, 532.3, 770.7)
d_d = dom(461, 758.7, 533.3, 770.7)
d_e = dom(859.3, 1157.7, 533.3, 769.3)
d_f = dom(88, 270.8, 872.7, 1135.7)
d_g = dom(371, 552.7, 872.7, 1135.7)
d_h = dom(652.5, 1156.4, 872.7, 1136)
HEAT_KW = dict(linecolor="#999999", linewidth=3)
X_0_16 = list(range(0, 17, 2))
layout = dict(
    width=W, height=H, margin=dict(l=0, r=0, t=0, b=0), paper_bgcolor="white", plot_bgcolor="white",
    font=dict(family=FONT, color=INK), showlegend=False, hovermode=False,
    xaxis=axis(d_a["x"], "y", [-59.8, 55.7], "t-SNE 1", TSNE_TICKS, TSNE_TICK_TEXT, tfs=26, size=20, standoff=2, lso=-5),
    yaxis=axis(d_a["y"], "x", [-59.7, 54], "t-SNE 2", TSNE_TICKS, TSNE_TICK_TEXT, tfs=26, size=20, standoff=0, lso=-2),
    xaxis2=axis(d_bt["x"], "y2", [-.5, 26.5], ticks="", showticklabels=False, **HEAT_KW),
    yaxis2=axis(d_bt["y"], "x2", [1.5, -.5], None, [0, 1], ["hits", "non-hits"], size=24, ticks="", side="right", lso=-3, **HEAT_KW),
    xaxis3=axis(d_bb["x"], "y3", [-.5, 26.5], None, list(range(27)),
                [f if len(f) == 1 else "" for f in FEATURES], size=22, ticklen=7, tickcolor="#333", lso=-8, **HEAT_KW),
    yaxis3=axis(d_bb["y"], "x3", [5.5, -.5], None, list(range(6)), ["2", "6", "1", "4", "3", "5"], size=24, ticks="", side="right", lso=-3, **HEAT_KW),
    xaxis4=axis(d_c["x"], "y4", [-1, 17.03], "D and E", X_0_16, tfs=27, size=21, standoff=0, lso=-6),
    yaxis4=axis(d_c["y"], "x4", [1.03, 23.2], "A, I, L, M and V", [5, 10, 15, 20], tfs=27, size=23, standoff=0, lso=-3),
    xaxis5=axis(d_d["x"], "y5", [-1, 16.94], "D and E", X_0_16, tfs=27, size=21, standoff=0, lso=-6),
    yaxis5=axis(d_d["y"], "x5", [-1.98, 25.06], "S, N, P, and Q", [0, 5, 10, 15, 20], tfs=27, size=23, standoff=0, lso=-3),
    xaxis6=axis(d_e["x"], "y6", [-2, 17.14], "D and E", [0, 2.5, 5, 7.5, 10, 12.5, 15], ["0", "", "5", "", "10", "", "15"], tfs=27, size=21, standoff=0, lso=-6),
    yaxis6=axis(d_e["y"], "x6", [-1.93, 17], "R, K, and H", [0, 2.5, 5, 7.5, 10, 12.5, 15], ["0", "", "5", "", "10", "", "15"], tfs=27, size=23, standoff=0, lso=-3),
    xaxis7=axis(d_f["x"], "y7", [.47, 6.53], "Subtype", SUBTYPES, tfs=27, size=21, standoff=0, lso=-6),
    yaxis7=axis(d_f["y"], "x7", [.68, 7.65], "PADI Score", [1, 2, 3, 4, 5, 6, 7], tfs=27, size=23, standoff=0, lso=-2),
    xaxis8=axis(d_g["x"], "y8", [.48, 6.51], "Subtype", SUBTYPES, tfs=27, size=21, standoff=0, lso=-6),
    yaxis8=axis(d_g["y"], "x8", [-.042, 1.053], "Mean Disorder", [0, .2, .4, .6, .8, 1], ["0.0", "0.2", "0.4", "0.6", "0.8", "1.0"], tfs=27, size=23, standoff=0, lso=-2),
    xaxis9=axis(d_h["x"], "y9", [-.59, 26.78], None, list(range(27)), CONSTRUCTS, size=20, tickangle=-90, ticklen=4, lso=-1),
    yaxis9=axis(d_h["y"], "x9", [0, 60], "mNeon (A.U.)", [0, 10, 20, 30, 40, 50, 60], tfs=27, size=22, standoff=0, lso=-2),
)

# titles and panel letters
note("6 distinct AD subtypes", 199, 37, size=27, bold=True)
note("Sequence features define AD subtypes", 755, 37, size=27, bold=True)
note("Yeast-identified hits are active in plants", 897, 857, size=27, bold=True)
for letter, x, baseline in [("a", 2, 27.5), ("b", 358, 27.5), ("c", 0, 527), ("d", 398, 527), ("e", 798, 527),
                            ("f", 0, 872), ("g", 302, 868), ("h", 576, 870)]:
    note(letter, x, baseline + 8, size=31, bold=True, xa="left", ya="bottom")

# legend of panel a
shapes.append(dict(type="rect", xref="paper", yref="paper", x0=px(319.5), x1=px(345), y0=py(345), y1=py(228.5),
                   fillcolor="#dddddd", line=dict(color="#cccccc", width=1)))
for i, y in enumerate([240, 258.3, 277.3, 295, 313.3, 331.7]):
    shapes.append(dict(type="circle", xref="paper", yref="paper", x0=px(323.3), x1=px(329.3), y0=py(y + 3), y1=py(y - 3),
                       fillcolor=SUB_COLORS[i], line=dict(color="white", width=1)))
    note(str(i + 1), 338, y, size=21)

# line legends of c, d, e
for x0, txt_x, labels, colors in [
    (236.7, 267.7, ["all hits", "Subtype1", "Subtype 4"], ["#9a9a9c", PINK, GREEN]),
    (632.7, 664, ["all hits", "Subtype 2", "Subtype 6"], ["#cdcdcd", "#fdb27a", "#7fa9d8"]),
    (1028.7, 1060, ["all hits", "Subtype 3", "Subtype 5"], ["#cdcdcd", "#fdb27a", "#7fa9d8"]),
]:
    for y, lab, col in zip([546.7, 566.3, 586], labels, colors):
        shapes.append(dict(type="line", xref="paper", yref="paper", x0=px(x0), x1=px(x0 + 25), y0=py(y), y1=py(y),
                           line=dict(color=col, width=2)))
        note(lab, txt_x, y, size=20, xa="left")

# side labels of panel b
note("vs library", 377.5, 96, size=21, angle=-90)
note("vs all fragments \u2265 1", 377.5, 257, size=21, angle=-90)
note("Subtype", 1146, 243, size=24.5, angle=-90)

# slanted feature labels of panel b
for lab, right in [("Positives", 420), ("Negatives", 495), ("Kappa", 573), ("DisPro", 725.6),
                   ("Hydrophobicity", 846), ("Aromatics", 875.6), ("Hydrophobics", 949.5)]:
    note(lab, right, 375, size=23, angle=-52, xa="right", ya="top", italic=True)

# dendrogram of panel b
for seg in [
    [(1106, 164), (1124, 164), (1124, 201), (1106, 201)],
    [(1124, 182), (1134, 182), (1134, 293)],
    [(1106, 238), (1122, 238), (1122, 276), (1106, 276)],
    [(1122, 257), (1132, 257), (1132, 330)],
    [(1106, 312), (1125, 312), (1125, 349), (1106, 349)],
    [(1125, 330), (1132, 330)],
    [(1132, 293), (1134, 293)],
]:
    path = "M " + " L ".join(f"{px(a):.5f},{py(b):.5f}" for a, b in seg)
    shapes.append(dict(type="path", xref="paper", yref="paper", path=path, line=dict(color="#555555", width=1.3)))

layout["annotations"] = annotations
layout["shapes"] = shapes
fig.update_layout(**layout)
fig.write_html("out.html", config=dict(displayModeBar=False), post_script="document.body.style.margin='0';")
